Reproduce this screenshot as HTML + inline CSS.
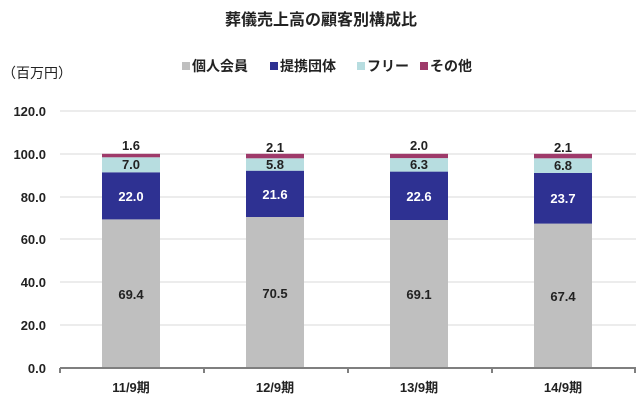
<!DOCTYPE html>
<html><head><meta charset="utf-8"><style>
html,body{margin:0;padding:0;background:#fff;}
svg{display:block;font-family:"Liberation Sans","Noto Sans CJK JP",sans-serif;}
</style></head><body>
<svg width="643" height="400" viewBox="0 0 643 400" xmlns="http://www.w3.org/2000/svg">
<text x="321" y="25" text-anchor="middle" font-size="16" font-weight="bold" fill="#222">葬儀売上高の顧客別構成比</text>
<g font-size="14" font-weight="bold" fill="#222">
<rect x="182" y="62" width="8" height="8" fill="#bfbfbf"/><text x="192" y="71">個人会員</text>
<rect x="270" y="62" width="8" height="8" fill="#2e3192"/><text x="280" y="71">提携団体</text>
<rect x="357" y="62" width="8" height="8" fill="#b7dde0"/><text x="367" y="71">フリー</text>
<rect x="420" y="62" width="8" height="8" fill="#9e3a6a"/><text x="430" y="71">その他</text>
<text x="2" y="78" font-weight="normal" font-size="14">（百万円）</text>
</g>
<g stroke="#d9d9d9" stroke-width="1">
<line x1="60" y1="111" x2="636" y2="111"/><line x1="60" y1="154" x2="636" y2="154"/>
<line x1="60" y1="197" x2="636" y2="197"/><line x1="60" y1="239" x2="636" y2="239"/>
<line x1="60" y1="282" x2="636" y2="282"/><line x1="60" y1="325" x2="636" y2="325"/>
</g>
<g font-size="13" font-weight="bold" fill="#222" text-anchor="end">
<text x="46" y="116">120.0</text><text x="46" y="159">100.0</text><text x="46" y="202">80.0</text>
<text x="46" y="244">60.0</text><text x="46" y="287">40.0</text><text x="46" y="330">20.0</text><text x="46" y="373">0.0</text>
</g>
<g>
<rect x="102" y="219.4" width="58" height="148.6" fill="#bfbfbf"/>
<rect x="102" y="172.3" width="58" height="47.1" fill="#2e3192"/>
<rect x="102" y="157.3" width="58" height="15" fill="#b7dde0"/>
<rect x="102" y="153.8" width="58" height="3.5" fill="#9e3a6a"/>
<rect x="246" y="217" width="58" height="151" fill="#bfbfbf"/>
<rect x="246" y="170.7" width="58" height="46.3" fill="#2e3192"/>
<rect x="246" y="158.3" width="58" height="12.4" fill="#b7dde0"/>
<rect x="246" y="153.8" width="58" height="4.5" fill="#9e3a6a"/>
<rect x="390" y="220" width="58" height="148" fill="#bfbfbf"/>
<rect x="390" y="171.6" width="58" height="48.4" fill="#2e3192"/>
<rect x="390" y="158.1" width="58" height="13.5" fill="#b7dde0"/>
<rect x="390" y="153.8" width="58" height="4.3" fill="#9e3a6a"/>
<rect x="534" y="223.6" width="58" height="144.4" fill="#bfbfbf"/>
<rect x="534" y="172.9" width="58" height="50.7" fill="#2e3192"/>
<rect x="534" y="158.3" width="58" height="14.6" fill="#b7dde0"/>
<rect x="534" y="153.8" width="58" height="4.5" fill="#9e3a6a"/>
</g>
<g font-size="13" font-weight="bold" text-anchor="middle" fill="#222">
<text x="131" y="299">69.4</text><text x="275" y="298">70.5</text><text x="419" y="299">69.1</text><text x="563" y="301">67.4</text>
<text x="131" y="169">7.0</text><text x="275" y="169">5.8</text><text x="419" y="169">6.3</text><text x="563" y="170">6.8</text>
<text x="131" y="150">1.6</text><text x="275" y="152">2.1</text><text x="419" y="150">2.0</text><text x="563" y="152">2.1</text>
</g>
<g font-size="13" font-weight="bold" text-anchor="middle" fill="#fff">
<text x="131" y="201">22.0</text><text x="275" y="199">21.6</text><text x="419" y="201">22.6</text><text x="563" y="203">23.7</text>
</g>
<g stroke="#7f7f7f" stroke-width="2">
<line x1="60" y1="368" x2="636" y2="368"/>
<line x1="60" y1="368" x2="60" y2="373"/><line x1="204" y1="368" x2="204" y2="373"/>
<line x1="348" y1="368" x2="348" y2="373"/><line x1="492" y1="368" x2="492" y2="373"/>
<line x1="635" y1="368" x2="635" y2="373"/>
</g>
<g font-size="13" font-weight="bold" text-anchor="middle" fill="#222">
<text x="131" y="392">11/9期</text><text x="275" y="392">12/9期</text><text x="419" y="392">13/9期</text><text x="563" y="392">14/9期</text>
</g>
</svg>
</body></html>
